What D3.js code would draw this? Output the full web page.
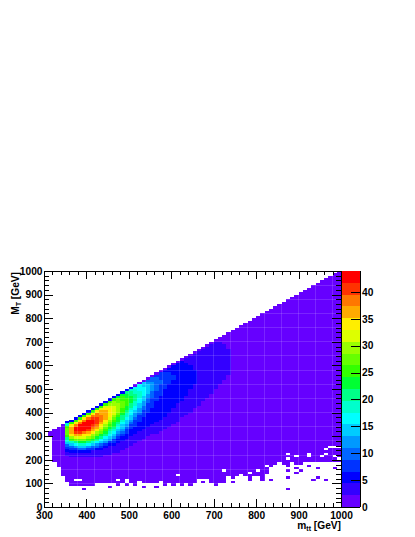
<!DOCTYPE html>
<html><head><meta charset="utf-8">
<script src="https://cdn.jsdelivr.net/npm/d3@7"></script>
<style>html,body{margin:0;padding:0;background:#fff}svg{display:block}text{font-family:"Liberation Sans",Arial,sans-serif;font-weight:700;fill:#000}</style>
</head><body><div id="chart"></div>
<script>
// bin columns (mtt lower edge, GeV)
const massColumns=[300,310,320,330,340,350,360,370,380,390,400,410,420,430,440,450,460,470,480,490,500,510,520,530,540,550,560,570,580,590,600,610,620,630,640,650,660,670,680,690,700,710,720,730,740,750,760,770,780,790,800,810,820,830,840,850,860,870,880,890,900,910,920,930,940,950,960,970,980,990];
const floorMT=[null,300,190,170,130,105,90,90,90,90,90,90,100,100,100,100,100,90,100,120,100,90,110,100,100,100,100,110,90,100,90,100,90,100,90,100,120,120,120,100,90,100,100,130,120,130,140,130,130,130,130,130,140,170,180,190,180,190,190,190,180,190,190,190,190,190,190,190,190,190];
const ceilMT=[null,320,330,340,350,360,370,380,390,400,410,420,430,440,450,460,470,480,490,500,510,520,530,540,550,560,570,580,590,600,610,620,630,640,650,660,670,680,690,700,710,720,730,740,750,760,770,780,790,800,810,820,830,840,850,860,870,880,890,900,910,920,930,940,950,960,970,980,990,1000];
// white bins inside the filled area, and isolated filled bins below it [mtt, MT]
const holes=[[370,110],[380,110],[470,110],[610,130],[720,150],[780,140],[800,150],[820,170],[870,220],[870,200],[890,210],[920,210],[920,220],[950,210],[960,240],[970,250],[980,250],[990,250],[980,210],[960,220],[990,200]];
const islands=[[390,70],[450,80],[490,90],[530,80],[560,80],[670,100],[740,100],[780,110],[780,120],[810,110],[810,120],[830,110],[870,170],[870,180],[870,150],[870,120],[870,70],[890,180],[890,160],[890,140],[900,150],[930,110],[940,120],[940,160],[960,110],[980,160],[920,170]];
// colour steps of the z axis, low to high
const zPalette=["#6600ff","#3300ff","#0000ff","#0033ff","#0066ff","#0099ff","#00ccff","#00ffff","#00ffcc","#00ff88","#00ff33","#33ff00","#66ff00","#99ff00","#ddff00","#ffee00","#ffaa00","#ff7700","#ff3300","#ff0000"];
const zMax=43.9;
const zTicks=[0,5,10,15,20,25,30,35,40];
const xMajor=[300,400,500,600,700,800,900,1000];
const yMajor=[0,100,200,300,400,500,600,700,800,900,1000];
// per level: first column, then lowest and highest MT read for each column
const levelStart=[null,350,350,350,350,350,350,350,350,350,350,350,350,360,360,360,360,370,370,370];
const low1=[215,210,207,207,207,207,208,210,213,217,222,228,235,243,252,262,272,281,290,298,306,315,325,335,345,355,365,376,388,402,416,432,448,465,482,500,520,540,565];
const high1=[360,370,380,390,400,410,420,430,440,450,460,470,480,490,500,510,510,520,530,540,550,560,570,580,590,600,610,620,630,640,650,660,670,680,690,695,695,685,670];
const low2=[232,230,229,230,232,234,237,240,245,250,256,263,270,278,287,296,306,316,327,337,348,360,372,385,400,418,436,455,475,497,525];
const high2=[360,370,380,390,400,410,420,430,440,450,460,470,480,490,500,510,510,520,530,540,550,560,570,580,590,600,610,620,610,600,580];
const low3=[245,241,238,236,237,240,243,247,252,258,266,275,286,298,312,327,344,362,382,403,425,448,472,497,520,545];
const high3=[354,364,374,384,394,404,414,424,434,444,454,464,474,484,494,504,510,520,530,540,550,560,565,570,570,560];
const low4=[255,250,246,244,245,247,251,255,260,267,276,286,298,312,328,346,366,388,411,436,462,490,520];
const high4=[354,364,374,384,394,404,414,424,434,444,454,464,474,484,494,504,510,520,530,538,545,545,535];
const low5=[262,256,251,249,250,253,257,261,267,275,284,295,308,323,340,360,382,405,430,456,488];
const high5=[354,364,374,384,394,404,414,424,434,444,454,464,474,484,494,504,514,522,530,534,525];
const low6=[268,261,256,254,255,258,262,267,274,282,292,304,318,335,354,375,398,422,448,478];
const high6=[354,364,374,384,394,404,414,424,434,444,454,464,474,484,494,504,514,524,525,515];
const low7=[274,266,261,259,260,263,267,273,280,289,300,313,329,347,368,390,414,440,470];
const high7=[352,364,374,384,394,404,414,424,434,444,454,464,474,484,494,504,512,515,505];
const low8=[280,271,266,264,265,269,273,279,287,297,309,323,340,360,382,406,432,460];
const high8=[350,362,372,382,392,402,412,422,432,442,452,462,472,482,492,500,502,490];
const low9=[285,276,271,269,270,274,279,285,293,304,317,333,352,374,397,422,448];
const high9=[348,360,370,380,390,400,410,420,430,440,450,460,470,480,488,490,480];
const low10=[292,280,276,274,275,279,284,291,300,312,326,344,365,388,412,438];
const high10=[345,358,368,378,388,398,408,418,428,438,448,458,465,475,478,468];
const low11=[298,285,280,278,280,284,290,297,307,320,336,356,378,402,428];
const high11=[340,355,365,375,385,395,405,415,425,435,445,455,462,465,455];
const low12=[305,290,284,282,284,289,295,303,314,328,346,368,392,418];
const high12=[335,352,362,372,382,392,402,412,422,432,442,450,455,445];
const low13=[295,288,287,290,295,301,310,322,337,357,380,405];
const high13=[350,360,370,380,390,400,410,420,430,438,445,435];
const low14=[300,293,292,295,300,307,317,330,347,370,395];
const high14=[348,358,368,378,388,398,408,416,425,432,425];
const low15=[305,298,297,300,305,313,325,340,360,385];
const high15=[345,355,365,375,385,395,405,413,420,415];
const low16=[310,303,303,306,312,320,333,350,375];
const high16=[340,352,362,372,382,392,402,408,405];
const low17=[308,308,312,318,328,345,365];
const high17=[350,360,370,378,388,395,392];
const low18=[313,312,318,325,338,355];
const high18=[342,352,362,372,378,380];
const low19=[320,318,325,335,355];
const high19=[335,345,355,365,370];
const levelLow=[null,low1,low2,low3,low4,low5,low6,low7,low8,low9,low10,low11,low12,low13,low14,low15,low16,low17,low18,low19];
const levelHigh=[null,high1,high2,high3,high4,high5,high6,high7,high8,high9,high10,high11,high12,high13,high14,high15,high16,high17,high18,high19];

const W=415,H=537;
const L=44,R=341,T=271,B=507,BIN=10;
const svg=d3.select("#chart").append("svg").attr("width",W).attr("height",H);
const x=d3.scaleLinear().domain([300,1000]).range([L,R]);
const y=d3.scaleLinear().domain([0,1000]).range([B,T]);
const z=d3.scaleLinear().domain([0,zMax]).range([B,T]);

function levelAt(m,M){
  let lev=0;
  for(let k=1;k<levelLow.length;k++){
    const i=(m-levelStart[k])/BIN;
    if(i<0||i>=levelLow[k].length)continue;
    const c=M+BIN/2;
    if(c>=levelLow[k][i]&&c<=levelHigh[k][i])lev=k;
  }
  return lev;
}
const holeSet=new Set(holes.map(d=>d.join()));
const cells=[];
massColumns.forEach((m,i)=>{
  if(floorMT[i]===null)return;
  for(let M=floorMT[i];M<ceilMT[i];M+=BIN){
    if(holeSet.has([m,M].join()))continue;
    cells.push({m,M,lev:levelAt(m,M)});
  }
});
islands.forEach(d=>cells.push({m:d[0],M:d[1],lev:0}));

svg.append("g").selectAll("rect").data(cells).join("rect")
  .attr("x",d=>x(d.m)).attr("y",d=>y(d.M+BIN))
  .attr("width",d=>x(d.m+BIN)-x(d.m)).attr("height",d=>y(d.M)-y(d.M+BIN))
  .attr("fill",d=>zPalette[d.lev]).attr("shape-rendering","crispEdges");

// faint seams of the bin mesh, seen through the filled area
const seams=svg.append("g").attr("stroke","#fff").attr("stroke-opacity",0.14).attr("shape-rendering","crispEdges");
d3.range(300,1000,40).forEach(v=>seams.append("line").attr("x1",x(v)).attr("x2",x(v)).attr("y1",T).attr("y2",B));
d3.range(40,1000,60).forEach(v=>seams.append("line").attr("y1",y(v)).attr("y2",y(v)).attr("x1",L).attr("x2",R));

// colour bar
const zBands=zPalette.map((c,i)=>({c,a:i*zMax/zPalette.length,b:(i+1)*zMax/zPalette.length}));
svg.append("g").selectAll("rect").data(zBands).join("rect")
  .attr("x",342).attr("width",18).attr("y",d=>z(d.b)).attr("height",d=>z(d.a)-z(d.b))
  .attr("fill",d=>d.c).attr("shape-rendering","crispEdges");

function styleAxis(g){g.select(".domain").remove();g.selectAll("line").attr("stroke","#000").attr("shape-rendering","crispEdges");
  g.selectAll("text").attr("font-size",10.2).attr("font-weight",700);}
const fmt=d3.format("d");
const xMinor=d3.range(300,1001,20), yMinor=d3.range(0,1001,20);
const ax=(gen,sel)=>{sel.call(gen).call(styleAxis);return sel;};
// minor ticks
ax(d3.axisBottom(x).tickValues(xMinor).tickSize(-4).tickFormat(""),svg.append("g").attr("transform",`translate(0,${B})`));
ax(d3.axisTop(x).tickValues(xMinor).tickSize(-4).tickFormat(""),svg.append("g").attr("transform",`translate(0,${T})`));
ax(d3.axisLeft(y).tickValues(yMinor).tickSize(-5).tickFormat(""),svg.append("g").attr("transform",`translate(${L},0)`));
ax(d3.axisRight(y).tickValues(yMinor).tickSize(-5).tickFormat(""),svg.append("g").attr("transform",`translate(${R},0)`));
// major ticks
const xb=ax(d3.axisBottom(x).tickValues(xMajor).tickSize(-8).tickFormat(fmt),svg.append("g").attr("transform",`translate(0,${B})`));
xb.selectAll("text").attr("dy","0.71em").attr("y",5);
ax(d3.axisTop(x).tickValues(xMajor).tickSize(-8).tickFormat(""),svg.append("g").attr("transform",`translate(0,${T})`));
const yl=ax(d3.axisLeft(y).tickValues(yMajor).tickSize(-9).tickFormat(fmt),svg.append("g").attr("transform",`translate(${L},0)`));
yl.selectAll("text").attr("x",-1.5);
ax(d3.axisRight(y).tickValues(yMajor).tickSize(-9).tickFormat(""),svg.append("g").attr("transform",`translate(${R},0)`));
const zl=ax(d3.axisRight(z).tickValues(zTicks).tickSize(-9).tickFormat(fmt),svg.append("g").attr("transform","translate(360,0)"));
zl.selectAll("text").attr("x",2);
// frames
svg.append("rect").attr("x",L).attr("y",T).attr("width",R-L).attr("height",B-T).attr("fill","none").attr("stroke","#000").attr("shape-rendering","crispEdges");
svg.append("line").attr("x1",360).attr("x2",360).attr("y1",T).attr("y2",B).attr("stroke","#000").attr("shape-rendering","crispEdges");
svg.append("line").attr("x1",342).attr("x2",360).attr("y1",B).attr("y2",B).attr("stroke","#000").attr("shape-rendering","crispEdges");

// axis titles
const xt=svg.append("text").attr("x",R).attr("y",528.5).attr("text-anchor","end").attr("font-size",10.2);
xt.append("tspan").text("m");
xt.append("tspan").attr("font-size",7).attr("dy",2).text("tt");
xt.append("tspan").attr("dy",-2).text(" [GeV]");
const yt=svg.append("text").attr("transform",`translate(18.5,${T+1}) rotate(-90)`).attr("text-anchor","end").attr("font-size",10.2);
yt.append("tspan").text("M");
yt.append("tspan").attr("font-size",7).attr("dy",2).text("T");
yt.append("tspan").attr("dy",-2).text(" [GeV]");
</script></body></html>
